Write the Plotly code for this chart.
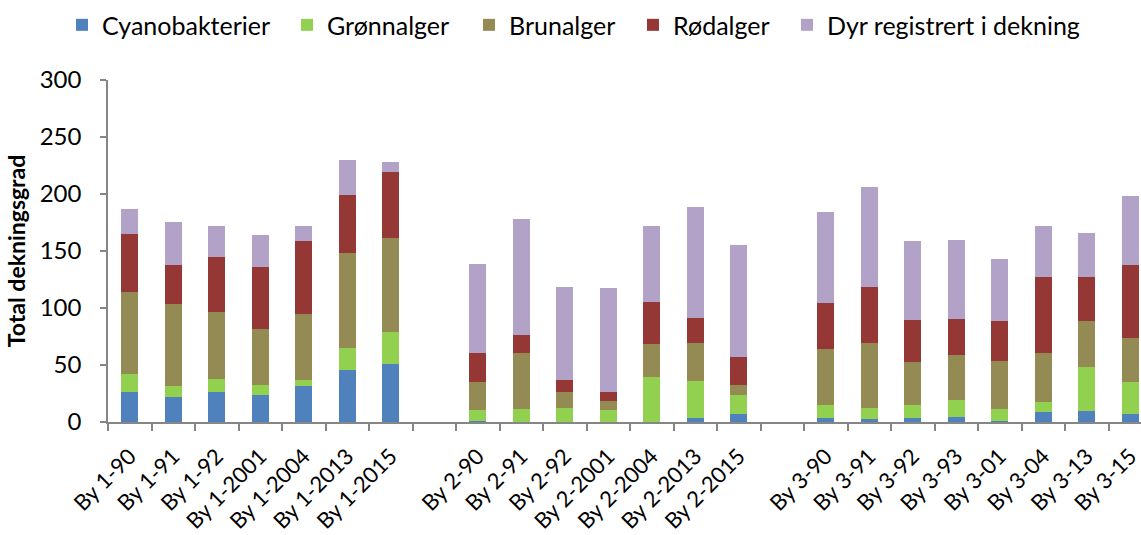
import plotly.graph_objects as go

# Site/year categories; blank entries separate the three sites
categories = [
    "By 1-90", "By 1-91", "By 1-92", "By 1-2001", "By 1-2004", "By 1-2013", "By 1-2015",
    " ",
    "By 2-90", "By 2-91", "By 2-92", "By 2-2001", "By 2-2004", "By 2-2013", "By 2-2015",
    "  ",
    "By 3-90", "By 3-91", "By 3-92", "By 3-93", "By 3-01", "By 3-04", "By 3-13", "By 3-15",
]

cyanobakterier = [26.1, 21.5, 26.1, 23.8, 31.7, 46.0, 50.9, None,
                  1.3, 0, 0, 0, 0, 3.4, 6.9, None,
                  3.4, 2.2, 3.4, 4.2, 0.7, 8.6, 9.5, 7.4]
gronnalger = [16.4, 10.2, 12.0, 9.0, 5.5, 19.3, 27.8, None,
              9.4, 11.5, 12.7, 10.9, 39.9, 32.7, 16.6, None,
              11.1, 10.5, 11.1, 15.5, 10.8, 8.8, 38.8, 27.5]
brunalger = [71.5, 72.1, 58.7, 49.1, 57.8, 82.9, 82.9, None,
             24.8, 49.4, 14.0, 7.3, 28.9, 33.5, 9.3, None,
             49.3, 56.4, 38.2, 39.4, 42.4, 43.5, 40.6, 38.8]
rodalger = [50.8, 33.9, 48.2, 54.0, 63.4, 50.5, 58.1, None,
            25.1, 15.7, 9.9, 7.9, 36.8, 21.3, 24.0, None,
            40.9, 49.0, 37.1, 31.6, 34.7, 66.3, 38.0, 64.2]
dyr = [22.2, 37.6, 26.8, 28.3, 13.4, 31.5, 8.2, None,
       78.2, 101.6, 82.1, 91.4, 66.6, 97.6, 98.1, None,
       79.4, 88.2, 69.2, 69.2, 54.6, 44.6, 39.1, 60.2]

y_ticks = [0, 50, 100, 150, 200, 250, 300]

series = [
    ("Cyanobakterier", cyanobakterier, "#4F81BD"),
    ("Grønnalger", gronnalger, "#92D050"),
    ("Brunalger", brunalger, "#948A54"),
    ("Rødalger", rodalger, "#953735"),
    ("Dyr registrert i dekning", dyr, "#B3A2C7"),
]

# pixel geometry of the figure
W, H = 1141, 535
L, R, T, B = 108, 0, 80, 112.5
plot_w = W - L - R
plot_h = H - T - B
slot = 43.5  # px per category

def px_to_paper_x(px):
    return (px - L) / plot_w

def px_to_paper_y(py):
    return 1 + (T - py) / plot_h

legend_text_px = [102, 327, 509, 673, 827]

FONT = "Lato"
fig = go.Figure()
layout_legends = {}
for i, (name, vals, color) in enumerate(series):
    key = "legend" if i == 0 else f"legend{i + 1}"
    fig.add_trace(go.Bar(
        x=categories, y=vals, name=name, legend=key, showlegend=True,
        marker=dict(color=color, line=dict(width=0)),
    ))
    layout_legends[key] = dict(
        x=px_to_paper_x(legend_text_px[i] - 40), xanchor="left",
        y=px_to_paper_y(25), yanchor="middle",
        orientation="h", bgcolor="rgba(0,0,0,0)",
        font=dict(family=FONT, size=25, color="#000000"),
    )

fig.update_layout(
    width=W, height=H,
    margin=dict(l=L, r=R, t=T, b=B, pad=0, autoexpand=False),
    barmode="stack", bargap=0.6, showlegend=True,
    plot_bgcolor="white", paper_bgcolor="white",
    font=dict(family=FONT, size=24, color="#000000"),
    **layout_legends,
)

fig.update_xaxes(
    type="category", categoryorder="array", categoryarray=categories,
    range=[-0.5, -0.5 + plot_w / slot], automargin=False,
    tickson="boundaries", ticks="outside", ticklen=7, tickwidth=1.5, tickcolor="#868686",
    showline=True, linecolor="#868686", linewidth=1.5,
    showgrid=False, tickangle=-45, tickfont=dict(size=22), ticklabelstandoff=11,
)
fig.update_yaxes(
    range=[0, 300], tickvals=y_ticks, ticks="outside", ticklen=6, tickwidth=1.5,
    tickcolor="#868686", showline=True, linecolor="#868686", linewidth=1.5,
    showgrid=False, zeroline=False, tickfont=dict(size=24), ticklabelstandoff=14,
    automargin=False,
    title=dict(text="<b>Total dekningsgrad</b>", font=dict(size=23), standoff=8),
)

fig.write_html("out.html")
